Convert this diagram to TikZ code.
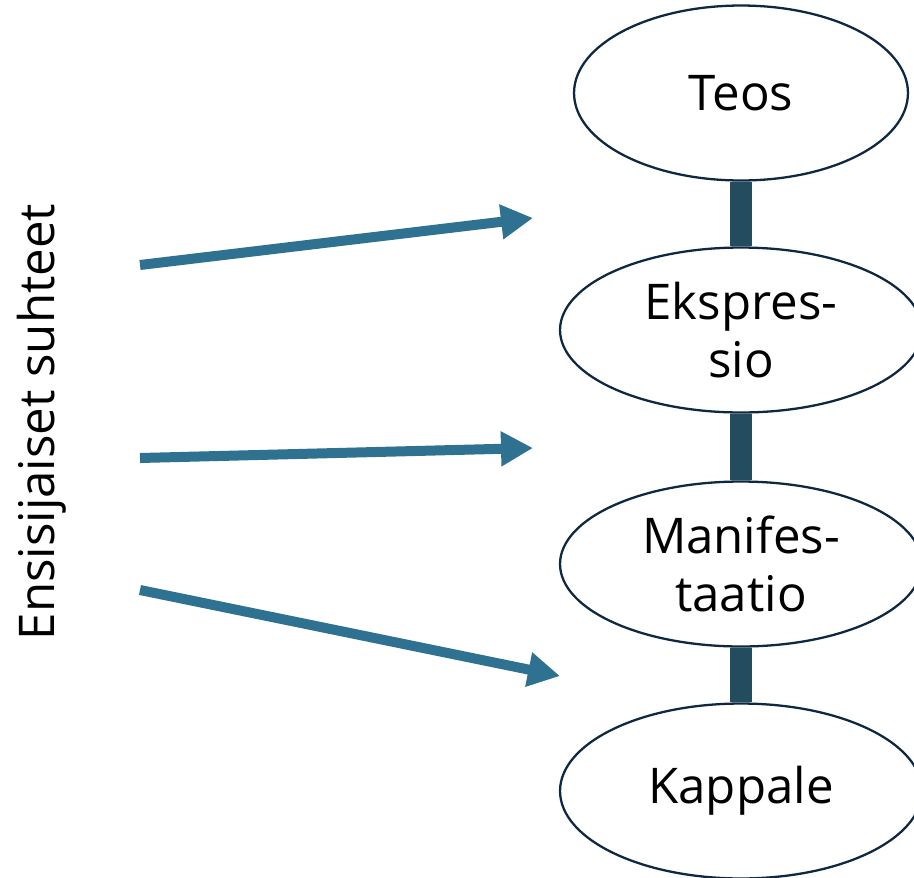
\documentclass[tikz,border=0pt]{standalone}
\usepackage{fontspec}
\setmainfont{Open Sans}
\usepackage{xcolor}
\usetikzlibrary{shapes.geometric,arrows.meta,positioning}
\definecolor{relblue}{HTML}{2F7191}
\definecolor{linkteal}{HTML}{244C5F}
\definecolor{rimblue}{HTML}{0E2841}
\tikzset{
  entity/.style={ % image of one FRBR entity
    draw=rimblue, line width=1.3pt, ellipse, fill=white,
    minimum width=7.24cm, minimum height=3.3cm,
    inner sep=0pt, align=center, text=black,
    font=\fontsize{28}{33}\selectfont
  },
  link/.style={  % bar between two entities
    draw=linkteal, line width=0.44cm
  },
  rel/.style={  % arrow of a primary relation
    draw=relblue, line width=0.2cm,
    -{Triangle[length=0.64cm,width=0.66cm]}
  }
}
\begin{document}
\begin{tikzpicture}[x=0.02cm,y=-0.02cm]
      \useasboundingbox (0,0) rectangle (914,877);

      \node[entity,minimum width=6.68cm,minimum height=3.5cm] (teos) at (741,93) {Teos};
      \node[entity] (ekspressio) at (741,330) {Ekspres-\\sio};
      \node[entity] (manifestaatio) at (741,564) {Manifes-\\taatio};
      \node[entity,minimum height=3.5cm] (kappale) at (741,791) {Kappale};

      \node (suhteet) at (42,422) [rotate=90,font=\fontsize{28}{33}\selectfont]{Ensisijaiset suhteet};

      \coordinate (a1) at (140,265);
      \coordinate (b1) at (533,218);
      \coordinate (a2) at (140,458);
      \coordinate (b2) at (533,448);
      \coordinate (a3) at (140,590);
      \coordinate (b3) at (560,676);

      \draw[link] (teos.south) -- (ekspressio.north);
      \draw[link] (ekspressio.south) -- (manifestaatio.north);
      \draw[link] (manifestaatio.south) -- (kappale.north);

      \draw[rel] (a1) -- (b1);
      \draw[rel] (a2) -- (b2);
      \draw[rel] (a3) -- (b3);
    \end{tikzpicture}
\end{document}
